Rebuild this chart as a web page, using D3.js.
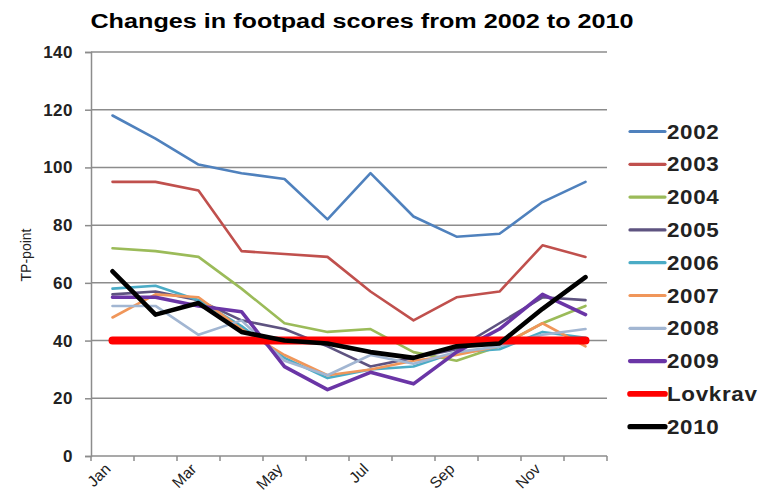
<!DOCTYPE html>
<html>
<head>
<meta charset="utf-8">
<script src="https://cdn.jsdelivr.net/npm/d3@7/dist/d3.min.js"></script>
<style>
  html, body { margin: 0; padding: 0; background: #fff; }
  svg { display: block; font-family: "Liberation Sans", Arial, sans-serif; }
</style>
</head>
<body>
<svg id="chart" width="765" height="493"></svg>
<script>
// Monthly footpad scores (TP-point) per year
const months = ["Jan","Feb","Mar","Apr","May","Jun","Jul","Aug","Sep","Oct","Nov","Dec"];
const monthLabels = ["Jan","","Mar","","May","","Jul","","Sep","","Nov",""];
const yTicks = [0, 20, 40, 60, 80, 100, 120, 140];

const y2002 = [118, 110, 101, 98, 96, 82, 98, 83, 76, 77, 88, 95];
const y2003 = [95, 95, 92, 71, 70, 69, 57, 47, 55, 57, 73, 69];
const y2004 = [72, 71, 69, 58, 46, 43, 44, 36, 33, 38, 46, 52];
const y2005 = [56, 57, 54, 47, 44, 38, 31, 34, 37, 46, 55, 54];
const y2006 = [58, 59, 54, 45, 34, 27, 30, 31, 36, 37, 43, 41];
const y2007 = [48, 56, 55, 44, 35, 28, 30, 33, 35, 38, 46, 38];
const y2008 = [52, 52, 42, 47, 33, 28, 35, 32, 36, 38, 42, 44];
const y2009 = [55, 55, 52, 50, 31, 23, 29, 25, 36, 44, 56, 49];
const lovkrav = [40, 40, 40, 40, 40, 40, 40, 40, 40, 40, 40, 40];
const y2010 = [64, 49, 53, 43, 40, 39, 36, 34, 38, 39, 51, 62];

const seriesNames = ["2002","2003","2004","2005","2006","2007","2008","2009","Lovkrav","2010"];
const seriesValues = [y2002, y2003, y2004, y2005, y2006, y2007, y2008, y2009, lovkrav, y2010];
const seriesColors = ["#4F81BD","#C0504D","#9BBB59","#5E5380","#4BACC6","#F0965A","#A2B6D2","#6A35A6","#FF0000","#000000"];
const seriesWidths = [2.6, 2.6, 2.6, 2.6, 2.6, 2.6, 2.6, 3.6, 8, 4.6];

const svg = d3.select("#chart");
const plot = { left: 91, right: 607, top: 52, bottom: 456 };

const x = d3.scaleBand().domain(months).range([plot.left, plot.right]).padding(0);
const xc = m => x(m) + x.bandwidth() / 2;
const y = d3.scaleLinear().domain([0, 140]).range([plot.bottom, plot.top]);

// Title (slightly wide lettering)
svg.append("text")
  .attr("transform", "translate(362,28) scale(1.2,1)")
  .attr("text-anchor", "middle")
  .attr("font-size", 21).attr("font-weight", "bold")
  .attr("fill", "#000")
  .text("Changes in footpad scores from 2002 to 2010");

// Horizontal gridlines
svg.append("g").selectAll("line")
  .data(yTicks.filter(t => t > 0))
  .join("line")
  .attr("x1", plot.left).attr("x2", plot.right)
  .attr("y1", d => y(d)).attr("y2", d => y(d))
  .attr("stroke", "#8c8c8c").attr("stroke-width", 1.5);

// Y axis
const yAxis = svg.append("g")
  .attr("transform", `translate(${plot.left},0)`)
  .call(d3.axisLeft(y).tickValues(yTicks).tickSize(6).tickPadding(12));
yAxis.select(".domain").attr("stroke", "#8c8c8c").attr("stroke-width", 1.5);
yAxis.selectAll(".tick line").attr("stroke", "#8c8c8c").attr("stroke-width", 1.5);
yAxis.selectAll(".tick text")
  .attr("font-size", 17).attr("font-weight", "bold").attr("fill", "#222")
  .attr("letter-spacing", 0.5)
  .attr("font-family", "Liberation Sans, Arial, sans-serif");

// X axis baseline and boundary ticks
svg.append("line")
  .attr("x1", plot.left).attr("x2", plot.right)
  .attr("y1", y(0)).attr("y2", y(0))
  .attr("stroke", "#8c8c8c").attr("stroke-width", 1.5);
const edges = months.map(m => x(m)).concat([x(months[months.length - 1]) + x.bandwidth()]);
svg.append("g").selectAll("line")
  .data(edges)
  .join("line")
  .attr("x1", d => d).attr("x2", d => d)
  .attr("y1", y(0)).attr("y2", y(0) + 5)
  .attr("stroke", "#8c8c8c").attr("stroke-width", 1.5);

// X labels, rotated
svg.append("g").selectAll("text")
  .data(months.map((m, i) => ({ m, label: monthLabels[i] })).filter(d => d.label))
  .join("text")
  .attr("transform", d => `translate(${xc(d.m) - 1},${y(0) + 14}) rotate(-45)`)
  .attr("text-anchor", "end")
  .attr("font-size", 15.5).attr("fill", "#222")
  .text(d => d.label);

// Y axis title
svg.append("text")
  .attr("transform", "translate(31,255) rotate(-90)")
  .attr("text-anchor", "middle")
  .attr("font-size", 14).attr("fill", "#222")
  .text("TP-point");

// Series lines
const line = d3.line().x((d, i) => xc(months[i])).y(d => y(d));
svg.append("g").selectAll("path")
  .data(seriesValues.map((v, i) => ({ v, i })))
  .join("path")
  .attr("d", d => line(d.v))
  .attr("fill", "none")
  .attr("stroke", d => seriesColors[d.i])
  .attr("stroke-width", d => seriesWidths[d.i])
  .attr("stroke-linejoin", "round")
  .attr("stroke-linecap", "round");

// Legend
const legend = svg.append("g");
const lg = legend.selectAll("g")
  .data(seriesNames.map((n, i) => ({ n, i })))
  .join("g")
  .attr("transform", d => `translate(630,${131.5 + d.i * 32.8})`);
lg.append("line")
  .attr("x1", 0).attr("x2", 35)
  .attr("stroke", d => seriesColors[d.i])
  .attr("stroke-width", d => Math.min(seriesWidths[d.i], 5) + 0.6)
  .attr("stroke-linecap", "round");
lg.append("text")
  .attr("transform", "translate(37,7) scale(1.12,1)")
  .attr("font-size", 20).attr("font-weight", "bold").attr("fill", "#222")
  .attr("letter-spacing", 0.6)
  .text(d => d.n);
</script>
</body>
</html>
